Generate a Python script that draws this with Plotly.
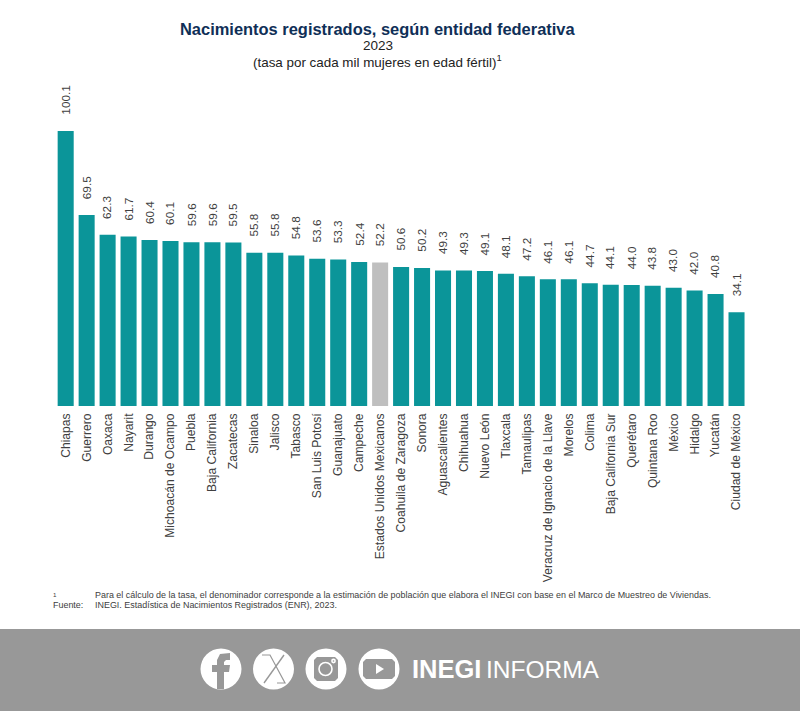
import plotly.graph_objects as go

states = ["Chiapas","Guerrero","Oaxaca","Nayarit","Durango","Michoacán de Ocampo","Puebla","Baja California","Zacatecas","Sinaloa","Jalisco","Tabasco","San Luis Potosí","Guanajuato","Campeche","Estados Unidos Mexicanos","Coahuila de Zaragoza","Sonora","Aguascalientes","Chihuahua","Nuevo León","Tlaxcala","Tamaulipas","Veracruz de Ignacio de la Llave","Morelos","Colima","Baja California Sur","Querétaro","Quintana Roo","México","Hidalgo","Yucatán","Ciudad de México"]
rates = [100.1,69.5,62.3,61.7,60.4,60.1,59.6,59.6,59.5,55.8,55.8,54.8,53.6,53.3,52.4,52.2,50.6,50.2,49.3,49.3,49.1,48.1,47.2,46.1,46.1,44.7,44.1,44.0,43.8,43.0,42.0,40.8,34.1]
national = "Estados Unidos Mexicanos"

W, H = 800, 711
TEAL, GREY, TXT = "#0B9599", "#BFBFBF", "#404040"
BAND = "#989898"
FONT = "Liberation Sans, Arial, sans-serif"

def px(x): return x / W
def py(y): return 1 - y / H

fig = go.Figure(go.Bar(
    x=states, y=rates,
    marker=dict(color=[GREY if s == national else TEAL for s in states], line_width=0),
    cliponaxis=False, hoverinfo="skip",
))

for s, v in zip(states, rates):
    fig.add_annotation(x=s, y=v, text=f"{v:.1f}", showarrow=False, textangle=-90,
                       yanchor="bottom", yshift=14, font=dict(family=FONT, size=11.8, color=TXT))

def note(x, y, text, size, color=TXT, anchor="left", family=FONT):
    fig.add_annotation(xref="paper", yref="paper", x=px(x), y=py(y), text=text, showarrow=False,
                       xanchor=anchor, yanchor="middle", align=anchor,
                       font=dict(family=family, size=size, color=color))

note(377.5, 29, "<b>Nacimientos registrados, según entidad federativa</b>", 16.45, "#0F2F57", "center")
note(378, 45, "2023", 13.5, "#222222", "center")
note(377, 61, "(tasa por cada mil mujeres en edad fértil)<sup>1</sup>", 13.4, "#222222", "center")
note(51, 594, "<sup>1</sup>", 8.9)
note(93, 594.5, "Para el cálculo de la tasa, el denominador corresponde a la estimación de población que elabora el INEGI con base en el Marco de Muestreo de Viviendas.", 8.95)
note(51, 605, "Fuente:", 8.95)
note(93, 605, "INEGI. Estadística de Nacimientos Registrados (ENR), 2023.", 8.95)
note(410, 669, "<b>INEGI</b>", 25.5, "white")
note(484, 669, "INFORMA", 24.5, "white")

shapes = [dict(type="rect", xref="paper", yref="paper", x0=0, x1=1, y0=0, y1=py(629),
               fillcolor=BAND, line_width=0, layer="below")]
def circle(cx, cy=669, r=20.5, color="white", line=None):
    shapes.append(dict(type="circle", xref="paper", yref="paper", x0=px(cx-r), x1=px(cx+r),
                       y0=py(cy+r), y1=py(cy-r), fillcolor=color if line is None else "rgba(0,0,0,0)",
                       line=dict(color=line or color, width=1.6 if line else 0)))
def poly(pts, color=BAND, fill=True, width=0):
    d = "M" + " L".join(f"{px(x):.5f},{py(y):.5f}" for x, y in pts) + (" Z" if fill else "")
    shapes.append(dict(type="path", xref="paper", yref="paper", path=d,
                       fillcolor=color if fill else "rgba(0,0,0,0)",
                       line=dict(color=color, width=width)))
for cx in (221, 273.5, 326, 379):
    circle(cx)
# facebook f
poly([(217,689),(217,672),(212,672),(212,665),(217,665),(217,660),(220,654),(230,653),(230,660),(226,660),(224,662),(224,665),(230,665),(229,672),(224,672),(224,689)])
# X
poly([(262,655),(270,655),(285,683),(277,683)], fill=False, width=1.2)
poly([(284,655),(264,683)], fill=False, width=1.4)
# instagram
poly([(317,657),(335,657),(338,660),(338,678),(335,681),(317,681),(314,678),(314,660)])
circle(325.5, 669, 6.5, line="white")
circle(333.5, 661, 1.6, line="white")
# youtube
poly([(366,659),(392,659),(395,662),(395,676),(392,679),(366,679),(363,676),(363,662)])
poly([(376,664),(376,674),(384,669)], "white")

fig.update_layout(
    width=W, height=H, margin=dict(l=0, r=0, t=0, b=0, autoexpand=False),
    paper_bgcolor="white", plot_bgcolor="white", showlegend=False, bargap=0.235,
    shapes=shapes,
    xaxis=dict(domain=[px(55.2), px(747)], type="category", categoryorder="array", categoryarray=states,
               tickangle=-90, ticks="", showline=False, showgrid=False, zeroline=False, ticklabelstandoff=4,
               tickfont=dict(family=FONT, size=12.1, color=TXT)),
    yaxis=dict(domain=[py(406), py(131)], range=[0, 100.1], visible=False),
)
fig.write_html("out.html", config=dict(displayModeBar=False), post_script="document.body.style.margin='0';")
